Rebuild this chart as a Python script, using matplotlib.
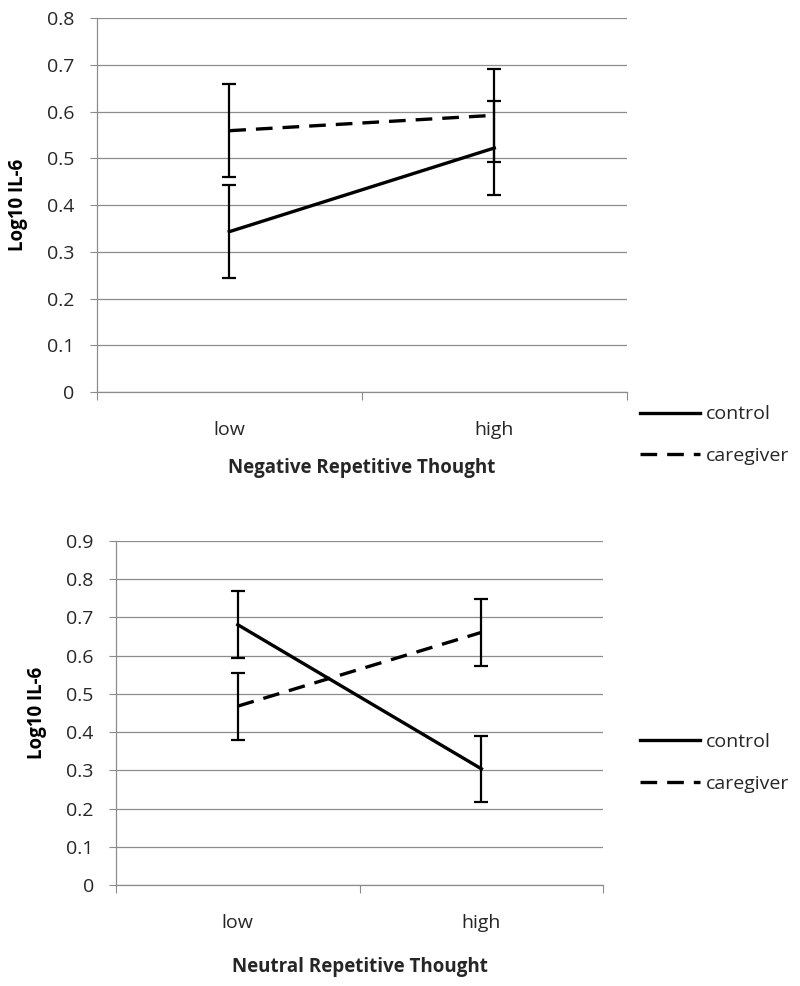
import matplotlib.pyplot as plt
from matplotlib.ticker import MultipleLocator, FixedLocator

plt.rcParams['font.family'] = ['Open Sans', 'DejaVu Sans']

categories = ['low', 'high']

# negative repetitive thought
neg_control = [0.343, 0.522]
neg_control_err = [0.10, 0.10]
neg_caregiver = [0.559, 0.592]
neg_caregiver_err = [0.10, 0.10]

# neutral repetitive thought
neu_control = [0.681, 0.304]
neu_control_err = [0.087, 0.087]
neu_caregiver = [0.468, 0.661]
neu_caregiver_err = [0.088, 0.088]

grid_col = '#8c8c8c'
text_col = '#262626'


def draw_panel(ax, ctrl, ctrl_err, care, care_err, ymax, xlabel, ylab_x, xlab_y, leg_y):
    x = list(range(len(categories)))
    ax.errorbar(x, ctrl, yerr=ctrl_err, color='black', lw=2.4, capsize=5,
                elinewidth=1.6, capthick=1.6, label='control', zorder=3)
    ax.errorbar(x, care, yerr=care_err, color='black', lw=2.4, ls=(0, (5, 3)),
                capsize=5, elinewidth=1.6, capthick=1.6, label='caregiver', zorder=3)
    ax.set_xlim(-0.5, len(categories) - 0.5)
    ax.set_ylim(0, ymax)
    ax.yaxis.set_major_locator(MultipleLocator(0.1))
    ax.set_yticklabels(['0' if v == 0 else '%.1f' % v for v in ax.get_yticks()])
    ax.xaxis.set_major_locator(FixedLocator([-0.5, 0.5, 1.5]))
    ax.xaxis.set_minor_locator(FixedLocator(x))
    ax.set_xticklabels([], minor=False)
    ax.set_xticklabels(categories, minor=True)
    ax.tick_params(axis='x', which='major', length=6, color=grid_col, direction='out')
    ax.tick_params(axis='x', which='minor', length=0, pad=21, labelsize=14, colors=text_col)
    ax.tick_params(axis='y', length=5, color=grid_col, pad=11, labelsize=14, labelcolor=text_col)
    ax.grid(axis='y', color=grid_col, lw=0.9)
    ax.set_axisbelow(True)
    for s in ['top', 'right']:
        ax.spines[s].set_visible(False)
    for s in ['left', 'bottom']:
        ax.spines[s].set_color(grid_col)
        ax.spines[s].set_linewidth(0.9)
    ax.set_ylabel('Log10 IL-6', fontsize=13.5, fontweight='bold', va='center')
    ax.yaxis.set_label_coords(ylab_x, 0.5)
    ax.set_xlabel(xlabel, fontsize=13.5, fontweight='bold', color=text_col, va='center')
    ax.xaxis.set_label_coords(0.5, xlab_y)
    # legend without error bar handles
    handles, labels = ax.get_legend_handles_labels()
    handles = [h[0] for h in handles]
    fig.legend(handles, labels, loc='center left', bbox_to_anchor=(0.8, leg_y),
               frameon=False, fontsize=14, handlelength=3.1, handletextpad=0.3,
               labelspacing=1.2, borderpad=0, borderaxespad=0, labelcolor=text_col)


fig = plt.figure(figsize=(8, 9.86), dpi=100)
ax1 = fig.add_axes([0.121, 0.6024, 0.6625, 0.3793])
ax2 = fig.add_axes([0.145, 0.1024, 0.609, 0.3489])

draw_panel(ax1, neg_control, neg_control_err, neg_caregiver, neg_caregiver_err, 0.8,
           'Negative Repetitive Thought', -0.149, -0.203, 0.5588)
draw_panel(ax2, neu_control, neu_control_err, neu_caregiver, neu_caregiver_err, 0.9,
           'Neutral Repetitive Thought', -0.162, -0.238, 0.2262)

plt.savefig('out.png', dpi=100)
plt.close()
